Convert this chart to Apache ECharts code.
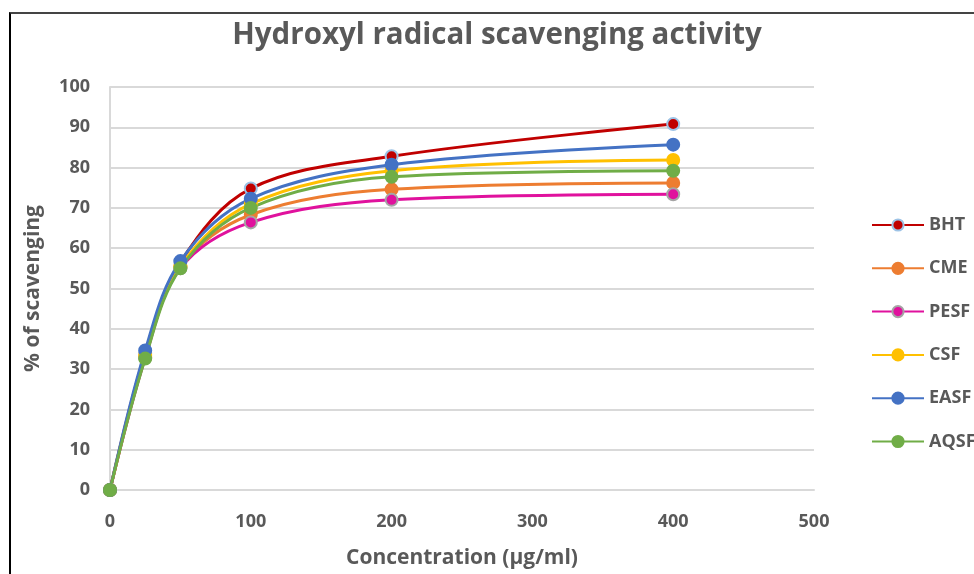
<!DOCTYPE html>
<html>
<head>
<meta charset="utf-8">
<script src="https://cdn.jsdelivr.net/npm/echarts@6/dist/echarts.min.js"></script>
<style>
html,body{margin:0;padding:0;background:#fff;}
#frame{position:absolute;left:9px;top:12px;width:965px;height:562px;border-left:2px solid #000;border-top:2px solid #444;box-sizing:border-box;}
#chart{position:absolute;left:0;top:0;width:974px;height:574px;}
</style>
</head>
<body>
<div id="frame"></div>
<div id="chart"></div>
<script>
const concentrations = [0, 25, 50, 100, 200, 400];
const seriesNames = ['BHT', 'CME', 'PESF', 'CSF', 'EASF', 'AQSF'];
const BHT  = [0, 34.0, 56.5, 74.8, 82.8, 90.8];
const CME  = [0, 33.0, 55.3, 68.3, 74.6, 76.2];
const PESF = [0, 32.8, 55.0, 66.4, 72.0, 73.4];
const CSF  = [0, 33.5, 55.5, 71.0, 79.2, 81.9];
const EASF = [0, 34.6, 56.8, 72.3, 80.7, 85.7];
const AQSF = [0, 32.6, 55.0, 70.0, 77.7, 79.2];
const yTicks = [0,10,20,30,40,50,60,70,80,90,100];
const xTicks = [0,100,200,300,400,500];

const values = [BHT, CME, PESF, CSF, EASF, AQSF];
const colors = ['#C00000', '#ED7D31', '#E0119D', '#FFC000', '#4472C4', '#70AD47'];
const borders = ['#9DC3E6', '#ED7D31', '#A5A5A5', '#FFC000', '#4472C4', '#70AD47'];

const font = '"Open Sans", "DejaVu Sans", sans-serif';
const chart = echarts.init(document.getElementById('chart'));
chart.setOption({
  animation: false,
  textStyle: {fontFamily: font},
  title: {
    text: 'Hydroxyl radical scavenging activity',
    left: 492, top: 16, textAlign: 'center',
    textStyle: {fontSize: 29.5, fontWeight: 'bold', color: '#595959', fontFamily: font}
  },
  grid: {left: 110, right: 160, top: 87, bottom: 84},
  legend: {
    orient: 'vertical', left: 866, top: 211,
    itemWidth: 52, itemHeight: 14, itemGap: 25.3,
    textStyle: {fontSize: 18, fontWeight: 'bold', color: '#595959', fontFamily: font},
    data: seriesNames
  },
  xAxis: {
    type: 'value', min: xTicks[0], max: xTicks[xTicks.length-1], interval: 100,
    name: 'Concentration (µg/ml)', nameLocation: 'middle', nameGap: 58,
    nameTextStyle: {fontSize: 21, fontWeight: 'bold', color: '#595959'},
    axisLine: {show: true, lineStyle: {color: '#D9D9D9', width: 2}},
    axisTick: {show: false},
    splitLine: {show: false},
    axisLabel: {fontSize: 18, fontWeight: 'bold', color: '#595959', margin: 23}
  },
  yAxis: {
    type: 'value', min: yTicks[0], max: yTicks[yTicks.length-1], interval: 10,
    name: '% of scavenging', nameLocation: 'middle', nameGap: 66,
    nameTextStyle: {fontSize: 21, fontWeight: 'bold', color: '#595959'},
    axisLine: {show: true, lineStyle: {color: '#D9D9D9', width: 2}},
    axisTick: {show: false},
    splitLine: {show: true, lineStyle: {color: '#D9D9D9', width: 2}},
    axisLabel: {fontSize: 18, fontWeight: 'bold', color: '#595959', margin: 20}
  },
  series: seriesNames.map((n, i) => ({
    name: n, type: 'line', smooth: 0.35,
    data: concentrations.map((x, j) => [x, values[i][j]]),
    symbol: 'circle', symbolSize: 12,
    lineStyle: {color: colors[i], width: 3},
    itemStyle: {color: colors[i], borderColor: borders[i], borderWidth: 2}
  }))
});
</script>
</body>
</html>
